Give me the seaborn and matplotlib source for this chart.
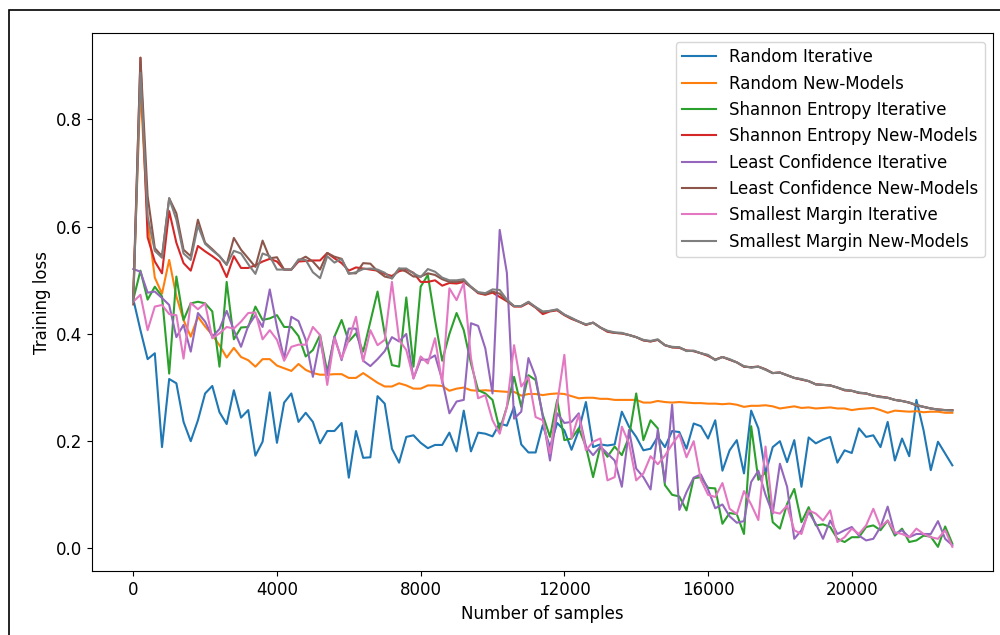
import numpy as np
import matplotlib
matplotlib.use('Agg')
import matplotlib.pyplot as plt
from matplotlib.patches import Rectangle
import seaborn as sns

# Number of labelled samples at each step of the active learning loop
samples = np.arange(0, 22801, 200)

# Training loss per strategy
random_iter = [
    0.465, 0.407, 0.353, 0.364, 0.189, 0.316, 0.308, 0.236, 0.200, 0.239,
    0.289, 0.303, 0.254, 0.232, 0.295, 0.244, 0.258, 0.173, 0.199, 0.291,
    0.197, 0.272, 0.289, 0.236, 0.253, 0.236, 0.196, 0.219, 0.219, 0.234,
    0.132, 0.219, 0.169, 0.170, 0.284, 0.270, 0.186, 0.160, 0.208, 0.211,
    0.197, 0.187, 0.193, 0.193, 0.216, 0.181, 0.257, 0.181, 0.216, 0.214,
    0.209, 0.233, 0.229, 0.264, 0.194, 0.179, 0.179, 0.230, 0.189, 0.234,
    0.220, 0.184, 0.220, 0.273, 0.189, 0.194, 0.192, 0.194, 0.255, 0.227,
    0.208, 0.183, 0.186, 0.208, 0.189, 0.219, 0.217, 0.186, 0.233, 0.228,
    0.205, 0.239, 0.145, 0.183, 0.202, 0.140, 0.257, 0.224, 0.140, 0.189,
    0.200, 0.161, 0.202, 0.115, 0.207, 0.196, 0.203, 0.208, 0.160, 0.183,
    0.178, 0.224, 0.208, 0.211, 0.189, 0.236, 0.164, 0.205, 0.172, 0.277,
    0.220, 0.146, 0.199, 0.177, 0.155]

random_new = [
    0.470, 0.860, 0.610, 0.505, 0.475, 0.538, 0.470, 0.426, 0.395, 0.432,
    0.414, 0.398, 0.379, 0.356, 0.374, 0.357, 0.351, 0.339, 0.353, 0.353,
    0.341, 0.336, 0.331, 0.344, 0.333, 0.327, 0.324, 0.324, 0.325, 0.325,
    0.318, 0.318, 0.327, 0.318, 0.309, 0.302, 0.302, 0.308, 0.304, 0.298,
    0.298, 0.304, 0.304, 0.303, 0.294, 0.298, 0.300, 0.295, 0.294, 0.295,
    0.294, 0.293, 0.292, 0.292, 0.285, 0.288, 0.288, 0.286, 0.288, 0.289,
    0.288, 0.284, 0.280, 0.281, 0.281, 0.279, 0.279, 0.277, 0.277, 0.277,
    0.277, 0.272, 0.272, 0.275, 0.273, 0.272, 0.273, 0.272, 0.271, 0.271,
    0.270, 0.270, 0.269, 0.270, 0.268, 0.264, 0.266, 0.266, 0.267, 0.265,
    0.261, 0.263, 0.265, 0.262, 0.263, 0.261, 0.262, 0.263, 0.261, 0.261,
    0.258, 0.260, 0.261, 0.262, 0.258, 0.253, 0.257, 0.256, 0.255, 0.256,
    0.254, 0.255, 0.255, 0.253, 0.253]

entropy_iter = [
    0.464, 0.518, 0.464, 0.488, 0.470, 0.326, 0.507, 0.426, 0.457, 0.460,
    0.457, 0.442, 0.339, 0.497, 0.390, 0.412, 0.413, 0.451, 0.426, 0.429,
    0.435, 0.413, 0.413, 0.396, 0.358, 0.370, 0.398, 0.329, 0.395, 0.426,
    0.386, 0.401, 0.367, 0.423, 0.479, 0.400, 0.342, 0.339, 0.468, 0.339,
    0.488, 0.510, 0.426, 0.350, 0.400, 0.439, 0.407, 0.345, 0.295, 0.289,
    0.277, 0.221, 0.264, 0.320, 0.264, 0.323, 0.314, 0.249, 0.208, 0.277,
    0.202, 0.205, 0.224, 0.190, 0.133, 0.190, 0.171, 0.190, 0.174, 0.208,
    0.289, 0.202, 0.239, 0.224, 0.118, 0.100, 0.097, 0.071, 0.131, 0.133,
    0.113, 0.112, 0.046, 0.066, 0.064, 0.027, 0.228, 0.128, 0.142, 0.049,
    0.037, 0.083, 0.111, 0.049, 0.077, 0.043, 0.045, 0.040, 0.018, 0.012,
    0.021, 0.021, 0.040, 0.043, 0.034, 0.052, 0.024, 0.037, 0.012, 0.015,
    0.024, 0.022, 0.003, 0.041, 0.009]

entropy_new = [
    0.470, 0.915, 0.580, 0.535, 0.513, 0.629, 0.570, 0.532, 0.518, 0.564,
    0.554, 0.545, 0.535, 0.506, 0.545, 0.523, 0.523, 0.528, 0.535, 0.540,
    0.535, 0.520, 0.520, 0.535, 0.536, 0.537, 0.537, 0.551, 0.541, 0.532,
    0.518, 0.524, 0.522, 0.520, 0.518, 0.512, 0.508, 0.517, 0.520, 0.514,
    0.497, 0.497, 0.500, 0.490, 0.495, 0.494, 0.497, 0.488, 0.476, 0.473,
    0.477, 0.469, 0.461, 0.451, 0.451, 0.458, 0.449, 0.437, 0.442, 0.444,
    0.435, 0.428, 0.423, 0.417, 0.421, 0.412, 0.404, 0.402, 0.401, 0.398,
    0.394, 0.388, 0.386, 0.389, 0.379, 0.375, 0.374, 0.369, 0.368, 0.364,
    0.359, 0.352, 0.357, 0.352, 0.347, 0.339, 0.338, 0.339, 0.334, 0.327,
    0.328, 0.323, 0.318, 0.315, 0.312, 0.306, 0.305, 0.304, 0.300, 0.295,
    0.294, 0.290, 0.289, 0.285, 0.283, 0.281, 0.277, 0.275, 0.272, 0.267,
    0.264, 0.261, 0.259, 0.258, 0.258]

confidence_iter = [
    0.521, 0.516, 0.477, 0.479, 0.467, 0.454, 0.394, 0.417, 0.367, 0.439,
    0.423, 0.395, 0.409, 0.443, 0.407, 0.376, 0.415, 0.435, 0.413, 0.483,
    0.413, 0.353, 0.432, 0.424, 0.389, 0.320, 0.389, 0.323, 0.395, 0.351,
    0.410, 0.410, 0.350, 0.340, 0.353, 0.368, 0.394, 0.386, 0.400, 0.317,
    0.352, 0.352, 0.360, 0.314, 0.252, 0.274, 0.277, 0.420, 0.415, 0.373,
    0.289, 0.594, 0.514, 0.242, 0.255, 0.355, 0.320, 0.245, 0.164, 0.252,
    0.234, 0.236, 0.252, 0.190, 0.174, 0.190, 0.177, 0.164, 0.115, 0.221,
    0.149, 0.133, 0.110, 0.221, 0.124, 0.268, 0.072, 0.105, 0.132, 0.138,
    0.110, 0.075, 0.082, 0.060, 0.048, 0.051, 0.124, 0.145, 0.100, 0.065,
    0.158, 0.115, 0.018, 0.034, 0.068, 0.046, 0.018, 0.052, 0.027, 0.034,
    0.040, 0.024, 0.015, 0.018, 0.040, 0.078, 0.027, 0.034, 0.021, 0.027,
    0.027, 0.027, 0.051, 0.018, 0.006]

confidence_new = [
    0.455, 0.915, 0.657, 0.560, 0.545, 0.653, 0.625, 0.557, 0.545, 0.613,
    0.570, 0.558, 0.545, 0.529, 0.579, 0.557, 0.541, 0.525, 0.574, 0.541,
    0.543, 0.520, 0.520, 0.537, 0.544, 0.535, 0.520, 0.551, 0.544, 0.540,
    0.513, 0.513, 0.532, 0.531, 0.517, 0.507, 0.504, 0.522, 0.516, 0.507,
    0.507, 0.513, 0.510, 0.502, 0.497, 0.497, 0.499, 0.487, 0.477, 0.474,
    0.479, 0.475, 0.462, 0.452, 0.452, 0.459, 0.450, 0.440, 0.443, 0.445,
    0.436, 0.429, 0.423, 0.417, 0.421, 0.412, 0.405, 0.402, 0.401, 0.398,
    0.394, 0.388, 0.386, 0.389, 0.379, 0.375, 0.375, 0.369, 0.368, 0.364,
    0.360, 0.352, 0.357, 0.352, 0.347, 0.339, 0.338, 0.339, 0.334, 0.327,
    0.328, 0.323, 0.318, 0.315, 0.312, 0.306, 0.305, 0.304, 0.300, 0.295,
    0.294, 0.290, 0.289, 0.285, 0.283, 0.281, 0.277, 0.275, 0.272, 0.267,
    0.264, 0.261, 0.259, 0.258, 0.258]

margin_iter = [
    0.460, 0.473, 0.407, 0.451, 0.454, 0.437, 0.435, 0.354, 0.458, 0.446,
    0.457, 0.392, 0.401, 0.413, 0.410, 0.423, 0.439, 0.440, 0.390, 0.407,
    0.389, 0.350, 0.376, 0.380, 0.380, 0.413, 0.398, 0.305, 0.392, 0.354,
    0.389, 0.432, 0.349, 0.407, 0.379, 0.389, 0.497, 0.389, 0.370, 0.317,
    0.358, 0.345, 0.392, 0.308, 0.485, 0.463, 0.495, 0.355, 0.280, 0.286,
    0.239, 0.214, 0.264, 0.379, 0.302, 0.320, 0.245, 0.239, 0.177, 0.270,
    0.361, 0.205, 0.249, 0.183, 0.199, 0.205, 0.127, 0.133, 0.227, 0.196,
    0.127, 0.140, 0.172, 0.157, 0.173, 0.194, 0.213, 0.170, 0.200, 0.128,
    0.100, 0.096, 0.122, 0.074, 0.064, 0.107, 0.082, 0.053, 0.190, 0.068,
    0.065, 0.080, 0.034, 0.027, 0.071, 0.065, 0.052, 0.071, 0.012, 0.021,
    0.037, 0.027, 0.043, 0.074, 0.040, 0.052, 0.030, 0.027, 0.021, 0.037,
    0.027, 0.021, 0.018, 0.034, 0.003]

margin_new = [
    0.460, 0.887, 0.619, 0.555, 0.542, 0.653, 0.613, 0.550, 0.538, 0.602,
    0.568, 0.556, 0.545, 0.529, 0.555, 0.550, 0.530, 0.512, 0.550, 0.545,
    0.520, 0.520, 0.520, 0.539, 0.538, 0.515, 0.504, 0.545, 0.533, 0.540,
    0.512, 0.515, 0.521, 0.522, 0.520, 0.514, 0.503, 0.522, 0.522, 0.513,
    0.506, 0.521, 0.516, 0.505, 0.500, 0.500, 0.502, 0.488, 0.478, 0.476,
    0.483, 0.482, 0.464, 0.452, 0.452, 0.460, 0.450, 0.442, 0.443, 0.446,
    0.436, 0.430, 0.423, 0.418, 0.421, 0.412, 0.406, 0.403, 0.402, 0.398,
    0.394, 0.389, 0.387, 0.390, 0.379, 0.376, 0.375, 0.368, 0.369, 0.364,
    0.361, 0.351, 0.357, 0.353, 0.347, 0.340, 0.337, 0.339, 0.333, 0.327,
    0.328, 0.323, 0.318, 0.316, 0.312, 0.306, 0.305, 0.304, 0.300, 0.296,
    0.294, 0.291, 0.289, 0.285, 0.282, 0.281, 0.277, 0.275, 0.272, 0.268,
    0.264, 0.261, 0.259, 0.258, 0.257]

series = [
    ('Random Iterative', random_iter),
    ('Random New-Models', random_new),
    ('Shannon Entropy Iterative', entropy_iter),
    ('Shannon Entropy New-Models', entropy_new),
    ('Least Confidence Iterative', confidence_iter),
    ('Least Confidence New-Models', confidence_new),
    ('Smallest Margin Iterative', margin_iter),
    ('Smallest Margin New-Models', margin_new),
]

colors = sns.color_palette('tab10', 8)
plt.rcParams['font.size'] = 12

fig = plt.figure(figsize=(10, 6.35), dpi=100)
ax = fig.add_axes([0.0923, 0.1003, 0.901, 0.8473])

for (name, values), color in zip(series, colors):
    sns.lineplot(x=samples, y=values, label=name, color=color, linewidth=1.5, ax=ax)

ax.set_xticks([0, 4000, 8000, 12000, 16000, 20000])
ax.set_xlabel('Number of samples')
ax.set_ylabel('Training loss')
ax.legend(loc='upper right')

# thin black frame around the whole figure, as in the screenshot
fig.patches.append(Rectangle((0.0085, -0.1), 1.2, 1.0843, transform=fig.transFigure,
                             fill=False, edgecolor='black', linewidth=1.2))

fig.savefig('out.png', dpi=100)
